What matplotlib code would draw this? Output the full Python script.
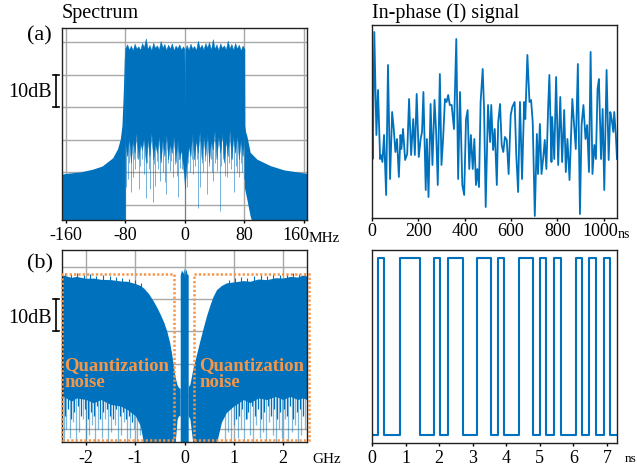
import matplotlib
matplotlib.use('Agg')
import matplotlib.pyplot as plt
import matplotlib.transforms as mtransforms
from matplotlib.patches import Rectangle

plt.rcParams['font.family'] = ['Liberation Serif', 'DejaVu Serif']
plt.rcParams['axes.unicode_minus'] = False

BLUE = '#0072BD'
ORANGE = '#F4964A'
GRID = '#a8a8a8'
W, H = 637, 470

# ---------------- (a) spectrum, MHz / dB ----------------
a_skirt_l_f = [-165, -160, -140, -124, -111, -97, -90.4, -86.7, -84.5, -82.7, -81.3, -80]
a_skirt_l_db = [-40.5, -40.3, -39.8, -39.0, -38.0, -35.5, -32.7, -29.7, -25.6, -15.4, -5.0, -1.8]

a_band_f = [-80, -77.5, -75, -72.5, -70, -67.5, -65, -62.5, -60, -57.5,
            -55, -52.5, -50, -47.5, -45, -42.5, -40, -37.5, -35, -32.5,
            -30, -27.5, -25, -22.5, -20, -17.5, -15, -12.5, -10, -7.5,
            -5, -2.5, -0.7, 0, 0.7, 2.5, 5, 7.5, 10, 12.5,
            15, 17.5, 20, 22.5, 25, 27.5, 30, 32.5, 35, 37.5,
            40, 42.5, 45, 47.5, 50, 52.5, 55, 57.5, 60, 62.5,
            65, 67.5, 70, 72.5, 75, 77.5, 80]
a_band_top = [-1.8, -0.6, -2.2, -1.0, -2.4, -0.4, -1.9, -1.2, -2.3, -0.2,
              -1.5, 1.2, -2.0, -0.8, -2.4, -0.1, -1.7, -0.9, -2.2, 0.4,
              -1.6, -0.5, -2.3, -0.7, -1.9, -0.3, -2.4, -1.0, -1.8, -0.6,
              -2.2, -1.2, -2.0, -20.0, -2.0, -0.8, -2.3, -0.4, -1.9, -1.1,
              -2.4, 0.5, -1.8, -0.7, -2.2, -0.2, -1.6, 0.1, -2.3, 1.0,
              -1.9, -0.6, -2.4, -0.3, -1.7, -0.9, -2.2, 0.5, -1.8, -0.5,
              -2.3, -0.2, -1.9, -0.7, -2.4, -1.0, -2.0]
a_band_floor = [-31, -35, -29, -37, -30, -34, -28, -36, -31, -33,
                -29, -37, -30, -35, -28, -36, -31, -34, -29, -37,
                -30, -35, -28, -36, -31, -34, -29, -37, -30, -36,
                -33, -38, -42, -45, -42, -37, -32, -35, -28, -36,
                -30, -34, -27, -36, -29, -35, -28, -37, -30, -33,
                -27, -36, -29, -34, -28, -37, -30, -35, -27, -36,
                -29, -34, -28, -36, -30, -35, -29]

a_skirt_r_f = [80, 80.4, 81.5, 83.2, 87.7, 96.7, 114.8, 133, 150, 165]
a_skirt_r_db = [-1.8, -25.6, -27.5, -28.7, -33.8, -35.9, -37.9, -39.2, -39.8, -40.3]
a_skirt_r_floor = [-44.6, -45.1, -46.3, -48.2, -53.4, -60, -60, -60, -60, -60]

a_dip_f = [-79, -76.8, -74.5, -72.3, -70, -68, -66.4, -64, -62, -60,
           -58, -55.5, -52.5, -50.5, -48.5, -46.5, -43.4, -41.5, -40.7, -38,
           -36, -33.9, -31.5, -29, -27, -25, -22.5, -20, -18, -15.8,
           -13.5, -11, -9, -6.8, -4.5, -2.2, 0, 2.3, 4.5, 7,
           9, 11.3, 13.5, 16, 17.6, 20, 22.5, 25, 27, 29.4,
           32, 34.5, 36.5, 38.4, 41, 43.5, 46.5, 49, 51.5, 54,
           56.5, 59, 61.5, 63.5, 65.5, 68, 70, 72.3, 75, 77, 79]
a_dip_db = [-44.6, -42.0, -37.0, -46.0, -41.5, -36.0, -39.0, -35.5, -45.0, -38.0,
            -36.0, -40.5, -47.7, -37.0, -39.0, -45.0, -49.2, -37.5, -44.0, -36.5,
            -39.0, -42.6, -36.0, -40.0, -43.0, -46.6, -37.0, -39.5, -36.5, -41.5,
            -37.5, -41.0, -47.5, -38.5, -39.0, -37.0, -55.0, -44.6, -37.0, -40.0,
            -36.0, -40.5, -38.0, -36.0, -50.8, -44.6, -37.0, -40.0, -36.5, -46.6,
            -38.0, -36.0, -40.0, -42.6, -37.0, -39.5, -51.8, -38.0, -36.0, -41.0,
            -41.5, -37.0, -39.0, -36.0, -46.0, -38.0, -40.0, -41.5, -37.0, -40.0, -42.0]

# ---------------- (b) spectrum, GHz / dB ----------------
b_left_f = [-2.49, -2.46, -2.3, -2.2, -2.0, -1.85, -1.7, -1.5, -1.3, -1.17,
            -1.0, -0.9, -0.83, -0.73, -0.63, -0.56, -0.49, -0.42, -0.36, -0.3,
            -0.26, -0.19, -0.15, -0.12, -0.09]
b_left_top = [-3.0, -2.6, -3.3, -3.0, -3.6, -3.5, -3.9, -4.0, -4.4, -4.5,
              -5.2, -5.8, -6.6, -8.3, -10.7, -12.6, -14.8, -17.2, -19.9, -23.5,
              -27.0, -34.2, -36.5, -37.3, -37.5]
b_left_floor = [-41.0, -40.0, -41.5, -40.5, -41.0, -42.0, -41.0, -42.5, -43.0, -44.0,
                -46.0, -49.0, -54.5, -54.5, -54.5, -54.5, -54.5, -54.5, -54.5, -54.5,
                -54.5, -54.5, -47.0, -46.0, -46.0]

b_mid_f = [-0.087, -0.06, -0.03, -0.01, 0.0, 0.01, 0.03, 0.05, 0.075]
b_mid_top = [-2.5, -1.0, -2.0, -0.3, -3.0, -1.5, -0.8, -2.2, -2.5]
b_mid_floor = [-54.5, -54.5, -54.5, -54.5, -54.5, -54.5, -54.5, -54.5, -54.5]

b_right_f = [0.075, 0.11, 0.17, 0.245, 0.31, 0.38, 0.45, 0.52, 0.58, 0.65,
             0.75, 0.85, 1.0, 1.2, 1.33, 1.5, 1.67, 1.85, 2.0, 2.15,
             2.3, 2.4, 2.49]
b_right_top = [-37.0, -36.3, -31.5, -27.0, -23.0, -18.9, -15.0, -11.7, -9.2, -7.1,
               -5.8, -5.0, -4.7, -4.3, -4.5, -3.8, -4.0, -3.4, -3.5, -3.0,
               -3.2, -2.6, -2.9]
b_right_floor = [-46.0, -47.0, -54.5, -54.5, -54.5, -54.5, -54.5, -54.5, -54.5, -54.5,
                 -48.0, -45.0, -43.0, -41.0, -42.0, -40.5, -41.0, -40.0, -41.0, -40.0,
                 -41.0, -40.5, -41.0]

# small noise spikes on top of the (b) envelope
b_peak_f = [-2.42, -2.3, -2.18, -2.05, -1.93, -1.8, -1.66, -1.52, -1.4, -1.27,
            -1.13, -1.0, -0.88, 0.9, 1.03, 1.15, 1.28, 1.41, 1.55, 1.68,
            1.8, 1.95, 2.08, 2.2, 2.33, 2.45]
b_peak_db = [-1.8, -2.2, -1.9, -2.6, -2.2, -2.9, -2.5, -3.0, -3.2, -3.4,
             -3.7, -4.2, -5.0, -4.0, -3.5, -3.2, -3.6, -2.9, -2.6, -3.0,
             -2.4, -2.7, -2.2, -2.0, -2.3, -1.8]

# deep (light) and shallow (dark) dips below the (b) noise floor
b_dip_f = [-2.45, -2.4, -2.33, -2.27, -2.2, -2.14, -2.07, -2.0, -1.94, -1.88,
           -1.81, -1.75, -1.68, -1.62, -1.55, -1.49, -1.42, -1.36, -1.29, -1.23,
           -1.16, -1.1, -1.03, -0.97, -0.9, -0.85,
           0.82, 0.88, 0.95, 1.01, 1.08, 1.14, 1.2, 1.27, 1.33, 1.4,
           1.46, 1.53, 1.59, 1.66, 1.72, 1.79, 1.85, 1.92, 1.98, 2.05,
           2.11, 2.18, 2.24, 2.31, 2.37, 2.44]
b_dip_db = [-54, -50, -53, -48, -54, -51, -47, -54, -52, -49,
            -54, -50, -53, -47, -54, -51, -49, -54, -52, -48,
            -54, -53, -50, -54, -52, -54,
            -54, -51, -54, -49, -53, -50, -54, -47, -52, -54,
            -49, -53, -51, -54, -48, -52, -54, -50, -53, -47,
            -54, -51, -49, -54, -52, -50]
b_dip2_f = [-2.43, -2.36, -2.3, -2.24, -2.17, -2.1, -2.03, -1.97, -1.91, -1.84,
            -1.78, -1.71, -1.65, -1.58, -1.52, -1.45, -1.39, -1.32, -1.26, -1.19,
            -1.13, -1.06,
            1.04, 1.11, 1.17, 1.24, 1.3, 1.37, 1.43, 1.5, 1.56, 1.62,
            1.69, 1.76, 1.82, 1.89, 1.95, 2.02, 2.08, 2.15, 2.21, 2.28,
            2.34, 2.41]
b_dip2_db = [-46, -44, -47, -45, -43, -46, -44, -47, -45, -46,
             -43, -47, -45, -44, -46, -47, -44, -46, -45, -47,
             -46, -48,
             -47, -46, -44, -47, -45, -43, -46, -44, -47, -45,
             -43, -46, -44, -47, -45, -44, -46, -43, -47, -45,
             -44, -46]

# ---------------- (a) I signal ----------------
i_t_ns = [0, 3, 10, 19, 26, 35, 39, 45, 52, 61,
          69, 78, 87, 94, 101, 108, 116, 123, 127, 134,
          143, 152, 160, 169, 178, 185, 193, 202, 210, 216,
          222, 232, 237, 244, 253, 261, 270, 277, 284, 293,
          300, 307, 315, 322, 329, 336, 344, 354, 364, 372,
          380, 390, 398, 406, 413, 420, 427, 435, 442, 449,
          455, 462, 469, 478, 484, 491, 501, 510, 515, 523,
          530, 539, 545, 553, 560, 567, 574, 582, 590, 599,
          606, 616, 623, 631, 639, 648, 657, 662, 671, 680,
          687, 694, 703, 712, 717, 725, 732, 739, 746, 753,
          761, 766, 775, 778, 787, 795, 804, 813, 821, 830,
          837, 844, 853, 865, 873, 880, 889, 898, 905, 913,
          922, 929, 937, 944, 952, 960, 967, 974, 980, 989,
          996, 1003, 1013, 1022, 1029, 1035, 1042, 1046, 1053, 1058]
i_val = [-0.9, -3.9, 8.8, -1.5, 3.0, -3.9, -3.5, -4.2, -1.5, -7.5,
         5.5, -5.9, 0.8, -0.9, -3.2, -1.9, -5.7, -1.5, -2.9, -0.9,
         -4.0, -3.4, 2.1, -3.5, 0.1, -3.5, 2.6, -3.7, -1.9, -1.2,
         2.8, -7.0, -1.9, -7.7, 1.6, -4.5, 2.0, -1.2, -6.5, 4.6,
         -4.5, -1.9, 2.1, 1.8, 2.5, 1.5, 1.5, -0.9, 8.1, -5.9,
         2.8, -6.5, -7.5, 0.1, 1.0, -4.9, -1.5, -4.9, -1.9, -6.5,
         -4.9, -6.7, 1.8, 5.1, 1.1, -8.7, 1.5, -2.2, 1.5, -3.0,
         -0.9, -6.5, -0.2, 1.6, -2.5, -3.2, -1.7, -2.0, -5.4, 0.5,
         1.3, 1.8, -3.5, -7.2, 1.8, -5.9, 1.8, 0.1, 6.5, 1.8,
         2.0, -0.2, -9.6, -1.4, -5.4, -0.4, -5.4, -3.9, -2.0, -4.9,
         1.5, 4.5, -4.2, 0.3, -3.9, 4.3, -4.5, 2.3, -4.2, 1.0,
         -5.2, -1.9, -6.0, 2.1, -0.5, -2.9, 5.6, -9.4, -0.5, 1.5,
         -1.9, -0.5, -5.2, 6.8, -5.4, -2.5, -3.9, 3.1, 4.1, -3.9,
         1.1, -7.0, 5.0, -4.0, 0.8, 0.1, -1.2, 0.8, -1.5, -3.9]

# ---------------- (b) 1-bit signal ----------------
sq_edges_ns = [0.17, 0.37, 0.83, 1.42, 1.86, 2.03, 2.25, 2.71, 3.13, 3.55, 3.75, 3.94,
               4.39, 4.80, 5.00, 5.19, 5.42, 5.62, 6.08, 6.26, 6.48, 6.67, 6.91, 7.09]
sq_levels = [-1, 1, -1, 1, -1, 1, -1, 1, -1, 1, -1, 1, -1,
             1, -1, 1, -1, 1, -1, 1, -1, 1, -1, 1, -1]
sq_end_ns = 7.3


def box(l, t, r, b):
    return [l / W, 1 - b / H, (r - l) / W, (b - t) / H]


def style(ax, ticks, labels, pad):
    for s in ax.spines.values():
        s.set_color('#222222')
        s.set_linewidth(1.0)
    ax.set_xticks(ticks)
    ax.set_xticklabels(labels, fontsize=13)
    ax.tick_params(axis='x', direction='out', length=2.5, width=1.0, pad=pad)
    ax.tick_params(axis='y', length=0, labelleft=False)


def shift_last_label(ax, dx_px):
    lab = ax.get_xticklabels()[-1]
    lab.set_transform(lab.get_transform() +
                      mtransforms.ScaledTranslation(dx_px / 100, 0, fig.dpi_scale_trans))


fig = plt.figure(figsize=(6.37, 4.70), dpi=100)
ax_a = fig.add_axes(box(62, 28, 307, 220))
ax_i = fig.add_axes(box(372, 25, 617, 218.3))
ax_b = fig.add_axes(box(62, 250, 307, 442.3))
ax_s = fig.add_axes(box(372, 250, 617, 443.3))

# ---- spectrum (a)
ax_a.fill_between(a_skirt_l_f, a_skirt_l_db, -60, color=BLUE, lw=0, zorder=2)
ax_a.fill_between(a_band_f, a_band_floor, a_band_top, color=BLUE, lw=0.3, ec=BLUE, zorder=2)
ax_a.fill_between(a_skirt_r_f, a_skirt_r_floor, a_skirt_r_db, color=BLUE, lw=0, zorder=2)
ax_a.vlines(a_dip_f, a_dip_db, -27, color=BLUE, lw=0.7, alpha=0.55, zorder=2)
ax_a.set_xlim(-165, 164)
ax_a.set_ylim(-54.6, 4.4)
style(ax_a, [-160, -80, 0, 80, 160], ['-160', '-80', '0', '80', '160'], 2.5)
ax_a.set_yticks([0, -10, -20, -30, -40, -50])
ax_a.grid(True, color=GRID, lw=1.0)
ax_a.set_axisbelow(True)
shift_last_label(ax_a, -8)

# ---- spectrum (b)
for f, top, floor in [(b_left_f, b_left_top, b_left_floor),
                      (b_mid_f, b_mid_top, b_mid_floor),
                      (b_right_f, b_right_top, b_right_floor)]:
    ax_b.fill_between(f, floor, top, color=BLUE, lw=0, zorder=2)
ax_b.vlines(b_peak_f, -8, b_peak_db, color=BLUE, lw=0.8, zorder=2)
ax_b.vlines(b_dip_f, b_dip_db, -38, color=BLUE, lw=0.9, alpha=0.5, zorder=2)
ax_b.vlines(b_dip2_f, b_dip2_db, -38, color=BLUE, lw=0.9, zorder=2)
ax_b.set_xlim(-2.49, 2.49)
ax_b.set_ylim(-54.2, 5.15)
style(ax_b, [-2, -1, 0, 1, 2], ['-2', '-1', '0', '1', '2'], 3)
ax_b.set_yticks([0, -10, -20, -30, -40, -50])
ax_b.grid(True, color=GRID, lw=1.0)
ax_b.set_axisbelow(True)

for x0, x1 in [(-2.49, -0.21), (0.19, 2.54)]:
    ax_b.add_patch(Rectangle((x0, -53.5), x1 - x0, 51.3, fill=False, ec=ORANGE,
                             lw=1.8, ls=(0, (0.9, 0.85)), clip_on=False, zorder=4))
for x0 in [-2.44, 0.30]:
    ax_b.text(x0, -31.9, 'Quantization', color=ORANGE, fontsize=13.5,
              fontweight='bold', va='baseline', zorder=5)
    ax_b.text(x0, -37.0, 'noise', color=ORANGE, fontsize=13.5,
              fontweight='bold', va='baseline', zorder=5)

# ---- 10 dB scale bars
for ax in (ax_a, ax_b):
    tr = mtransforms.blended_transform_factory(ax.transAxes, ax.transData)
    ax.plot([-0.0245, -0.0245], [-10, -20], color='k', lw=1.2, transform=tr, clip_on=False)
    for yv in (-10, -20):
        ax.plot([-0.036, -0.013], [yv, yv], color='k', lw=1.2, transform=tr, clip_on=False)

# ---- I signal
ax_i.plot(i_t_ns, i_val, color=BLUE, lw=1.3)
ax_i.set_xlim(0, 1058)
ax_i.set_ylim(-9.83, 9.5)
ax_i.set_yticks([])
style(ax_i, [0, 200, 400, 600, 800, 1000], ['0', '200', '400', '600', '800', '1000'], 1)
shift_last_label(ax_i, -3)

# ---- 1-bit signal
ax_s.step([0] + sq_edges_ns + [sq_end_ns], sq_levels + [sq_levels[-1]],
          where='post', color=BLUE, lw=1.5)
ax_s.set_xlim(0, 7.3)
ax_s.set_ylim(-1.094, 1.094)
ax_s.set_yticks([])
style(ax_s, list(range(8)), [str(k) for k in range(8)], 2)


def ftext(x, y, s, **kw):
    fig.text(x / W, 1 - y / H, s, **kw)


ftext(62, 18, 'Spectrum', fontsize=14.5, va='baseline')
ftext(372, 18, 'In-phase (I) signal', fontsize=14.5, va='baseline')
ftext(27, 40, '(a)', fontsize=16, va='baseline')
ftext(27, 268, '(b)', fontsize=16, va='baseline')
ftext(52, 97, '10dB', fontsize=14.5, ha='right', va='baseline')
ftext(52, 323, '10dB', fontsize=14.5, ha='right', va='baseline')
ftext(309, 241.5, 'MHz', fontsize=11, va='baseline')
ftext(617.5, 238, 'ns', fontsize=10, va='baseline')
ftext(312, 463, 'GHz', fontsize=11, va='baseline')
ftext(624.5, 462.5, 'ns', fontsize=9.5, va='baseline')

fig.savefig('out.png', dpi=100)
